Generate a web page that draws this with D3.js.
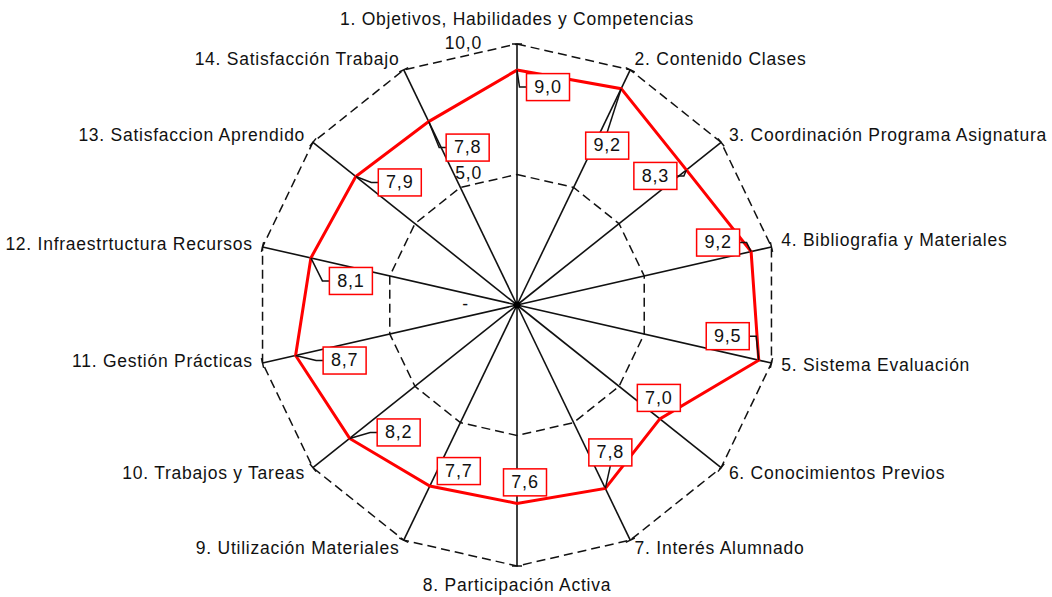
<!DOCTYPE html>
<html>
<head>
<meta charset="utf-8">
<script src="https://cdn.jsdelivr.net/npm/d3@7"></script>
<style>
  body { margin: 0; background: #fff; }
  text { font-family: "Liberation Sans", Arial, sans-serif; fill: #111; }
</style>
</head>
<body>
<div id="chart"></div>
<script>
const categories = [
    "1. Objetivos, Habilidades y Competencias",
    "2. Contenido Clases",
    "3. Coordinación Programa Asignatura",
    "4. Bibliografia y Materiales",
    "5. Sistema Evaluación",
    "6. Conocimientos Previos",
    "7. Interés Alumnado",
    "8. Participación Activa",
    "9. Utilización Materiales",
    "10. Trabajos y Tareas",
    "11. Gestión Prácticas",
    "12. Infraestrtuctura Recursos",
    "13. Satisfaccion Aprendido",
    "14. Satisfacción Trabajo"
];
const values = [9.0, 9.2, 8.3, 9.2, 9.5, 7.0, 7.8, 7.6, 7.7, 8.2, 8.7, 8.1, 7.9, 7.8];
const tickValues = [0, 5, 10];
const tickLabels = ["-", "5,0", "10,0"];

// where each data label box sits, relative to its point (px)
const labelOffsets = [
    [31, 17], [-14, 57], [-31, 6], [-33, -9], [-31, -24], [-1, -21], [5, -36],
    [8, -21], [29, -15], [49, -6], [49, 5], [40, 23], [44, 6], [39, 26]
];

const width = 1052, height = 597;
const cx = 517, cy = 305, R = 261;
const n = categories.length;

const svg = d3.select("#chart").append("svg")
    .attr("width", width)
    .attr("height", height);

const r = d3.scaleLinear().domain([0, 10]).range([0, R]);
const angle = d3.scaleLinear().domain([0, n]).range([0, 2 * Math.PI]);

function pos(i, v) {
    const a = angle(i);
    return [cx + r(v) * Math.sin(a), cy - r(v) * Math.cos(a)];
}

// dashed grid polygons
tickValues.filter(t => t > 0).forEach(t => {
    svg.append("path")
        .attr("d", d3.line()(d3.range(n + 1).map(i => pos(i % n, t))))
        .attr("fill", "none")
        .attr("stroke", "#111")
        .attr("stroke-width", 1.5)
        .attr("stroke-dasharray", "9,5");
});

// spokes
svg.selectAll(".spoke")
    .data(categories)
    .enter()
    .append("line")
    .attr("x1", cx).attr("y1", cy)
    .attr("x2", (d, i) => pos(i, 10)[0])
    .attr("y2", (d, i) => pos(i, 10)[1])
    .attr("stroke", "#111")
    .attr("stroke-width", 1.6);

// small tick at end of each spoke
svg.selectAll(".tick")
    .data(categories)
    .enter()
    .append("line")
    .attr("x1", (d, i) => pos(i, 10)[0] - 5 * Math.cos(angle(i)))
    .attr("y1", (d, i) => pos(i, 10)[1] - 5 * Math.sin(angle(i)))
    .attr("x2", (d, i) => pos(i, 10)[0] + 5 * Math.cos(angle(i)))
    .attr("y2", (d, i) => pos(i, 10)[1] + 5 * Math.sin(angle(i)))
    .attr("stroke", "#111")
    .attr("stroke-width", 1.5);

svg.append("circle")
    .attr("cx", cx).attr("cy", cy).attr("r", 3.5)
    .attr("fill", "#000");

// value axis labels
svg.selectAll(".axisLabel")
    .data(tickValues)
    .enter()
    .append("text")
    .attr("x", (d, i) => d === 0 ? cx - 48 : cx - 35)
    .attr("y", d => cy - r(d))
    .attr("text-anchor", "end")
    .attr("dominant-baseline", "middle")
    .style("font-size", "17.5px")
    .style("letter-spacing", "0.8px")
    .text((d, i) => tickLabels[i]);

// category labels
svg.selectAll(".catLabel")
    .data(categories)
    .enter()
    .append("text")
    .attr("x", (d, i) => {
        const p = pos(i, 10), a = angle(i);
        return p[0] + 10 * Math.sin(a);
    })
    .attr("y", (d, i) => {
        const p = pos(i, 10), a = angle(i);
        let off = 10;
        if (i === 0) off = 24;
        if (i === n / 2) off = 20;
        return p[1] - off * Math.cos(a) + (i === 3 || i === 10 ? -3 : 0) + (i === 4 || i === 11 ? 1 : 0);
    })
    .attr("text-anchor", (d, i) => {
        const s = Math.sin(angle(i));
        return Math.abs(s) < 0.01 ? "middle" : (s > 0 ? "start" : "end");
    })
    .attr("dominant-baseline", "middle")
    .style("font-size", "17.5px")
    .style("letter-spacing", "0.75px")
    .text(d => d);

// data polygon
const pts = values.map((v, i) => pos(i, v));
svg.append("path")
    .attr("d", d3.line()(pts.concat([pts[0]])))
    .attr("fill", "none")
    .attr("stroke", "#ff0000")
    .attr("stroke-width", 3)
    .attr("stroke-linejoin", "miter");

// data labels with leader lines
const bw = 43, bh = 27;
values.forEach((v, i) => {
    const [px, py] = pts[i];
    const bx = px + labelOffsets[i][0], by = py + labelOffsets[i][1];
    const left = bx - bw / 2, right = bx + bw / 2, top = by - bh / 2, bottom = by + bh / 2;
    const ddx = Math.max(left - px, 0, px - right);
    const ddy = Math.max(top - py, 0, py - bottom);
    if (Math.hypot(ddx, ddy) > 8.5) {
        let path;
        if (Math.abs(bx - px) > bw / 2) {
            const ex = bx > px ? left : right;
            const elbow = bx > px ? ex - 7 : ex + 7;
            path = [[px, py], [elbow, by], [ex, by]];
        } else {
            const ey = by > py ? top : bottom;
            path = [[px, py], [bx, ey]];
        }
        svg.append("path")
            .attr("d", d3.line()(path))
            .attr("fill", "none")
            .attr("stroke", "#111")
            .attr("stroke-width", 1.5);
    }
    svg.append("rect")
        .attr("x", left).attr("y", top)
        .attr("width", bw).attr("height", bh)
        .attr("fill", "#fff")
        .attr("stroke", "#ff0000")
        .attr("stroke-width", 1.5);
    svg.append("text")
        .attr("x", bx)
        .attr("y", by + 1)
        .attr("text-anchor", "middle")
        .attr("dominant-baseline", "middle")
        .style("font-size", "18px")
        .style("letter-spacing", "0.8px")
        .text(d3.format(".1f")(v).replace(".", ","));
});
</script>
</body>
</html>
